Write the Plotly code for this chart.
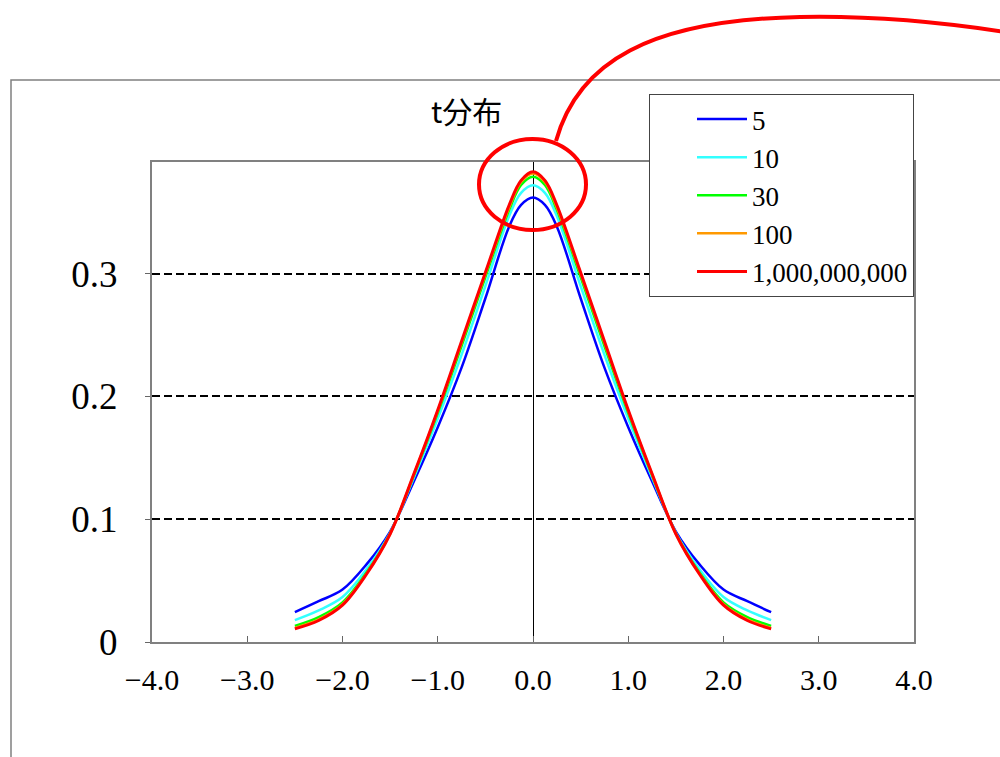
import plotly.graph_objects as go

# ---------------- data ----------------
x_vals = [-2.5, -2.25, -2.0, -1.75, -1.5, -1.25, -1.0, -0.75, -0.5, -0.25, -0.125, 0.0,
          0.125, 0.25, 0.5, 0.75, 1.0, 1.25, 1.5, 1.75, 2.0, 2.25, 2.5]

dens_df5 = [0.0243, 0.0332, 0.0427, 0.063, 0.090, 0.131, 0.175, 0.2235, 0.280, 0.3385, 0.356, 0.362,
            0.356, 0.3385, 0.280, 0.2235, 0.175, 0.131, 0.090, 0.063, 0.0427, 0.0332, 0.0243]
dens_df10 = [0.0178, 0.0257, 0.0366, 0.059, 0.089, 0.134, 0.182, 0.234, 0.290, 0.347, 0.3658, 0.372,
             0.3658, 0.347, 0.290, 0.234, 0.182, 0.134, 0.089, 0.059, 0.0366, 0.0257, 0.0178]
dens_df30 = [0.0131, 0.0203, 0.0323, 0.0564, 0.0884, 0.1359, 0.1865, 0.2411, 0.2972, 0.352, 0.3723, 0.379,
             0.3723, 0.352, 0.2972, 0.2411, 0.1865, 0.1359, 0.0884, 0.0564, 0.0323, 0.0203, 0.0131]
dens_df100 = [0.0115, 0.0184, 0.0308, 0.0555, 0.0881, 0.1366, 0.1882, 0.2437, 0.2997, 0.354, 0.3748, 0.3817,
              0.3748, 0.354, 0.2997, 0.2437, 0.1882, 0.1366, 0.0881, 0.0555, 0.0308, 0.0184, 0.0115]
dens_df1e9 = [0.0107, 0.0175, 0.030, 0.055, 0.088, 0.137, 0.189, 0.245, 0.301, 0.356, 0.376, 0.383,
              0.376, 0.356, 0.301, 0.245, 0.189, 0.137, 0.088, 0.055, 0.030, 0.0175, 0.0107]

series_names = ["5", "10", "30", "100", "1,000,000,000"]
series_colors = ["#0000FF", "#33FFFF", "#00FF00", "#FF9900", "#FF0000"]
series_data = [dens_df5, dens_df10, dens_df30, dens_df100, dens_df1e9]

x_ticks = [-4, -3, -2, -1, 0, 1, 2, 3, 4]
x_tick_labels = ["\u22124.0", "\u22123.0", "\u22122.0", "\u22121.0", "0.0", "1.0", "2.0", "3.0", "4.0"]
y_ticks = [0, 0.1, 0.2, 0.3]
y_tick_labels = ["0", "0.1", "0.2", "0.3"]

title_text = "t分布"

# ---------------- layout helpers (pixel -> paper) ----------------
L, R, T, B = 152, 914, 162, 642
SERIF = "Liberation Serif, DejaVu Serif, serif"


def px(x):
    return (x - L) / (R - L)


def py(y):
    return (B - y) / (B - T)


fig = go.Figure()
for name, ys, color in zip(series_names, series_data, series_colors):
    fig.add_trace(go.Scatter(
        x=x_vals, y=ys, mode="lines", name=name,
        line=dict(color=color, width=3 if name.startswith("1,") else 2.5,
                  shape="spline", smoothing=1.0),
    ))

fig.update_layout(
    width=1000, height=757,
    margin=dict(l=L, r=1000 - R, t=T, b=757 - B),
    paper_bgcolor="white", plot_bgcolor="white",
    font=dict(family=SERIF, color="black"),
    showlegend=True,
    legend=dict(
        x=px(649), y=py(94), xanchor="left", yanchor="top",
        bordercolor="#444444", borderwidth=1, bgcolor="white",
        font=dict(family=SERIF, size=27, color="black"),
        indentation=42, itemwidth=50, tracegroupgap=0,
    ),
)

fig.update_xaxes(
    range=[-4, 4], tickvals=x_ticks, ticktext=x_tick_labels,
    ticks="inside", ticklen=6, tickcolor="#666666", tickwidth=1,
    showline=True, linecolor="#808080", linewidth=2, mirror=True,
    showgrid=False, zeroline=True, zerolinecolor="black", zerolinewidth=1,
    tickfont=dict(family=SERIF, size=30, color="black"),
    ticklabelstandoff=10,
)
fig.update_yaxes(
    range=[0, 0.391], tickvals=y_ticks, ticktext=y_tick_labels,
    ticks="outside", ticklen=5, tickcolor="#666666", tickwidth=1,
    showline=True, linecolor="#808080", linewidth=2, mirror=True,
    showgrid=True, gridcolor="black", gridwidth=2, griddash="8px,4px",
    zeroline=False,
    tickfont=dict(family=SERIF, size=37, color="black"),
    ticklabelstandoff=20,
)

# title
fig.add_annotation(
    x=px(466), y=py(110), xref="paper", yref="paper", text=title_text,
    showarrow=False, xanchor="center", yanchor="middle",
    font=dict(family="Noto Sans CJK JP", size=30, color="black"),
)

# outer chart-area border
fig.add_shape(type="rect", xref="paper", yref="paper",
              x0=px(11), x1=px(1010), y0=py(780), y1=py(80),
              line=dict(color="#808080", width=1.5), fillcolor="rgba(0,0,0,0)",
              layer="below")

# red highlight ellipse
fig.add_shape(type="circle", xref="paper", yref="paper",
              x0=px(479), x1=px(586), y0=py(230), y1=py(139),
              line=dict(color="#FF0000", width=4))

# red callout curve
pts = [(556, 141), (578, 62), (650, 20), (800, 17), (870, 15.6), (940, 22), (1005, 32)]
p = [f"{px(a):.5f},{py(b):.5f}" for a, b in pts]
path = f"M {p[0]} C {p[1]} {p[2]} {p[3]} C {p[4]} {p[5]} {p[6]}"
fig.add_shape(type="path", xref="paper", yref="paper", path=path,
              line=dict(color="#FF0000", width=4))

fig.write_html("out.html")
